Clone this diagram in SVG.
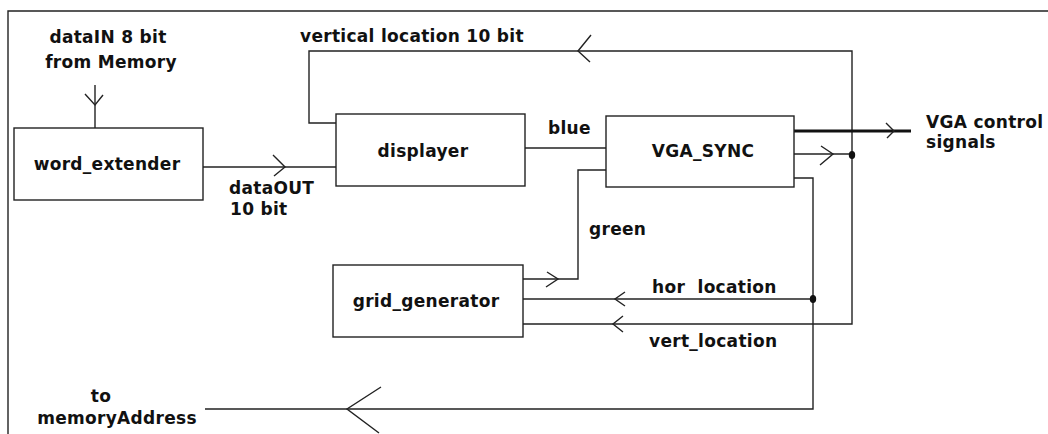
<svg xmlns="http://www.w3.org/2000/svg" width="1048" height="434" viewBox="0 0 1048 434">
<style>
.ln{fill:none;stroke:#222;stroke-width:1.4}
.bx{fill:#fff;stroke:#222;stroke-width:1.4}
.t{font-family:"DejaVu Sans",Verdana,sans-serif;font-weight:bold;font-size:17px;letter-spacing:0.3px;fill:#111;white-space:pre}
.m{text-anchor:middle}
</style>
<rect width="1048" height="434" fill="#fff"/>
<g id="frame"><path class="ln" d="M8,440 V11 H1050"/></g>
<g id="connectors">
<path class="ln" d="M95,85 V128"/>
<polyline class="ln" points="85,94 95,105 103,95"/>
<path class="ln" d="M203,167 H337"/>
<polyline class="ln" points="273,155 285,167 274,176"/>
<path class="ln" d="M337,123 H309 V51 H852 V324 H523"/>
<polyline class="ln" points="591,35 578,51 590,62"/>
<polyline class="ln" points="623,316 613,324 623,332"/>
<path class="ln" d="M525,148 H606"/>
<path class="ln" d="M606,170 H578 V279 H523"/>
<polyline class="ln" points="547,272 558,279 546,287"/>
<path class="ln" d="M523,299 H813"/>
<polyline class="ln" points="625,292 615,299 625,306"/>
<path fill="none" stroke="#111" stroke-width="3.2" d="M794,131 H911"/>
<polyline class="ln" points="886,123 894,131 887,138"/>
<path class="ln" d="M794,154 H852"/>
<polyline class="ln" points="821,146 833,154 820,165"/>
<path class="ln" d="M794,178 H813 V409 H205"/>
<polyline class="ln" points="381,387 347,409 379,433"/>
<ellipse cx="852" cy="155" rx="3.2" ry="4" fill="#111"/>
<ellipse cx="813" cy="299" rx="3.2" ry="4" fill="#111"/>
</g>
<g id="word_extender"><rect class="bx" x="14" y="128" width="189" height="72"/><text class="t m" x="107" y="170">word_extender</text></g>
<g id="displayer"><rect class="bx" x="336" y="114" width="189" height="72"/><text class="t m" x="423" y="157">displayer</text></g>
<g id="vga_sync"><rect class="bx" x="606" y="116" width="188" height="71"/><text class="t m" x="703" y="157">VGA_SYNC</text></g>
<g id="grid_generator"><rect class="bx" x="333" y="265" width="190" height="72"/><text class="t m" x="426" y="307">grid_generator</text></g>
<g id="labels">
<text class="t m" x="108" y="43">dataIN 8 bit</text>
<text class="t m" x="111" y="68">from Memory</text>
<text class="t" x="300" y="42">vertical location 10 bit</text>
<text class="t" x="548" y="134">blue</text>
<text class="t" x="926" y="128">VGA control</text>
<text class="t" x="926" y="148">signals</text>
<text class="t" x="229" y="194">dataOUT</text>
<text class="t" x="230" y="215">10 bit</text>
<text class="t" x="589" y="235">green</text>
<text class="t" x="652" y="293">hor  location</text>
<text class="t" x="649" y="347">vert_location</text>
<text class="t m" x="101" y="402">to</text>
<text class="t m" x="117" y="424">memoryAddress</text>
</g>
</svg>
